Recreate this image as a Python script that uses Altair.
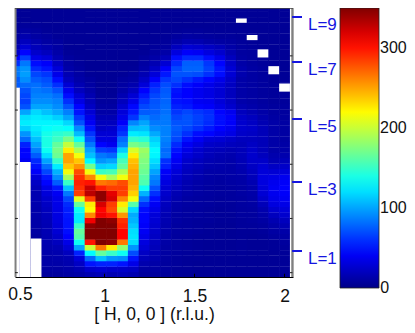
import altair as alt
import pandas as pd

BACK = 5
E_FIRST = 10
H_VALUES = [0.50, 0.56, 0.62, 0.68, 0.74, 0.80, 0.86, 0.92, 0.98, 1.04, 1.10, 1.16, 1.22,
            1.28, 1.34, 1.40, 1.46, 1.52, 1.58, 1.64, 1.70, 1.76, 1.82, 1.88, 1.94, 2.00]

# intensity per column, lowest energy first; anything above the list's end is BACK
I_050 = [5,5,5,5,5,5,5,5,5,5,5,5,5,5,5,5,5,5,5,5,5,5,5,5,5,5,5,5,5,5,5,5,5,5,5,
         75,75,85,85,60,45,25,15,10,8,6]
I_056 = [5,5,5,5,5,5,5,5,5,5,5,5,5,5,5,5,5,5,5,5,5,40,45,45,55,80,95,115,125,120,100,72,65,68,72,80,92,98,95,85,65,45,28,20,14,10,7]
I_062 = [5,5,5,5,5,5,5,8,10,12,12,13,13,14,15,15,18,22,30,42,50,58,75,88,100,110,120,125,128,125,118,100,92,88,85,82,75,68,58,48,35,25,18,14,10,8,6]
I_068 = [8,10,12,12,13,14,15,15,16,16,17,18,20,22,25,30,35,45,52,68,82,100,120,135,140,140,138,132,128,122,110,100,92,88,82,75,70,62,50,42,30,20,14,10,8,6]
I_074 = [8,10,12,13,14,16,20,24,28,30,32,33,34,35,36,40,52,75,92,105,125,150,168,172,165,152,145,135,128,115,102,92,88,82,72,60,48,36,30,22,16,12,10,8,6]
I_080 = [10,12,14,15,20,28,35,44,48,50,50,52,54,58,68,85,110,150,188,215,238,250,250,225,198,172,150,132,118,100,88,72,60,48,38,28,20,16,12,10,8,6]
I_086 = [12,16,22,30,55,100,135,160,165,150,125,125,135,165,210,285,290,295,290,280,255,238,215,190,165,135,108,92,72,62,50,45,34,28,20,16,12,10,8,7,6]
I_092 = [15,25,50,80,130,200,300,350,350,345,310,260,220,225,285,330,325,300,260,215,170,130,110,100,85,72,62,50,40,35,28,22,18,15,12,10,8,6]
I_098 = [18,28,55,110,165,265,350,350,350,350,350,310,305,320,345,345,295,265,215,150,115,95,85,65,45,32,28,22,20,16,12,10,8,6]
I_104 = [16,25,55,95,150,225,345,350,350,350,345,300,280,285,320,315,285,270,190,155,118,100,80,62,38,32,28,25,20,16,12,10,8,6]
I_110 = [18,24,50,92,135,180,265,305,305,295,290,255,205,225,260,285,285,280,215,190,165,155,140,115,88,80,62,55,42,35,30,26,20,16,12,10,8,6]
I_116 = [15,22,35,50,70,95,120,122,120,112,105,102,118,160,215,235,245,250,250,250,245,240,225,205,172,150,125,108,90,62,52,46,36,28,20,14,10,8,6]
I_122 = [8,10,14,18,22,28,32,36,40,42,45,45,48,60,80,105,135,158,162,168,172,175,180,185,165,145,122,110,100,88,75,68,60,52,44,30,22,16,12,10,8,6]
I_128 = [8,10,12,14,16,18,20,22,24,26,28,30,35,40,48,60,72,85,90,100,112,120,128,130,122,115,102,92,85,80,76,74,72,68,62,55,42,30,22,16,12,9,7,6]
I_134 = [7,8,8,9,10,10,11,12,13,14,15,16,18,20,22,25,28,32,38,42,55,60,82,80,85,88,88,88,85,85,82,80,78,76,74,70,62,52,42,28,18,12,9,7,6]
I_140 = [6,6,7,7,8,8,8,8,9,9,10,10,11,12,14,16,20,22,26,30,35,40,45,50,58,68,72,75,72,68,62,55,50,48,50,60,68,72,68,58,48,32,20,12,8,6]
I_146 = [5,6,6,6,7,7,7,7,8,8,8,9,9,10,10,12,14,15,18,20,22,25,30,35,40,50,60,68,72,72,68,52,48,44,44,48,60,72,78,76,58,42,28,16,10,7]
I_152 = [5,5,5,6,6,6,6,6,7,7,7,8,8,9,9,10,11,12,14,16,18,20,24,26,32,40,48,60,65,66,62,45,40,38,38,42,52,70,78,76,58,40,26,15,9,7]
I_158 = [5,5,5,5,5,5,5,6,6,6,7,7,7,8,8,9,9,10,11,12,14,16,18,20,24,30,45,52,58,60,58,42,38,34,34,36,45,60,66,62,48,32,22,12,8,6]
I_164 = [5,5,5,5,5,5,5,5,5,5,6,6,6,7,7,8,8,9,10,12,13,14,15,18,22,28,38,44,48,48,45,34,30,28,28,30,36,48,50,45,36,26,18,10,7,6]
I_170 = [5,5,5,5,5,5,5,5,5,5,6,6,7,7,8,8,9,10,11,12,12,13,14,16,20,24,34,38,42,42,38,26,22,20,20,21,24,28,28,24,20,15,12,9,7,6]
I_176 = [5,5,5,5,6,6,6,6,6,7,7,8,8,9,9,10,10,11,12,14,15,17,18,18,18,20,24,26,26,24,20,16,13,12,12,12,12,14,14,12,10,9,8,7,6,6]
I_182 = [5,5,5,5,5,5,5,5,6,7,8,8,9,10,11,12,13,15,18,20,22,24,25,24,22,20,22,24,22,20,16,13,11,10,10,10,10,10,10,9,8,8,7,6]
I_188 = [5,5,5,5,5,5,5,6,7,8,10,12,14,18,24,28,30,32,32,30,28,24,20,18,18,18,18,18,16,14,12,10,9,8,8,8,8,8,8,7,7,6,6]
I_194 = [5,5,5,5,5,6,6,8,10,12,15,20,26,32,36,38,40,38,34,28,22,16,14,12,12,12,12,12,12,10,9,8,7,7,7,7,6,6]
I_200 = [6,6,6,6,6,7,8,10,12,16,20,26,30,35,40,42,44,42,38,30,24,18,14,12,11,10,10,10,10,9,8,8,7,7,6,6]

COLUMNS = [I_050, I_056, I_062, I_068, I_074, I_080, I_086, I_092, I_098, I_104, I_110, I_116, I_122,
           I_128, I_134, I_140, I_146, I_152, I_158, I_164, I_170, I_176, I_182, I_188, I_194, I_200]

# white (unmeasured) regions: H from, H to, E from, E to
GAP_H0 = [0.503, 0.53, 0.59, 1.73, 1.79, 1.85, 1.91, 1.97]
GAP_H1 = [0.53, 0.59, 0.65, 1.79, 1.85, 1.91, 1.97, 2.03]
GAP_E0 = [9.6, 9.6, 9.6, 56.5, 53.3, 50.1, 47.0, 43.8]
GAP_E1 = [44.5, 30.8, 16.7, 57.3, 54.25, 51.6, 48.5, 45.3]

L_NAMES = ["L=9", "L=7", "L=5", "L=3", "L=1"]
L_ENERGY = [57.57, 49.27, 38.75, 27.13, 14.4]
TICK_ENERGY = [10.4, 20.4, 30.4, 40.4, 50.4]
H_TICKS = [1, 1.5, 2]
CBAR_TICKS = [100, 200, 300]

H_MIN, H_MAX = 0.503, 2.047
E_MIN, E_MAX = 9.6, 59.23

rows = []
for h, col in zip(H_VALUES, COLUMNS):
    for k in range(51):
        e = E_FIRST + k
        v = col[k] if k < len(col) else BACK
        rows.append(dict(
            x0=max(H_MIN, h - 0.03), x1=h + 0.03 if h >= 2 else h + 0.0335,
            y0=max(E_MIN, e - 0.5), y1=min(E_MAX, e + 0.56), v=v))
cells = pd.DataFrame(rows)
cells = cells[cells.y0 < E_MAX]

xs = alt.Scale(domain=[H_MIN, H_MAX], nice=False, zero=False)
ys = alt.Scale(domain=[E_MIN, E_MAX], nice=False, zero=False)
jet = alt.Scale(domain=[0, 44, 131, 219, 306, 350],
                range=["#000088", "#0000ff", "#00ffff", "#ffff00", "#ff0000", "#800000"],
                interpolate="rgb")
FONT = "Liberation Sans"
TSIZE = 17.5
CSIZE = 16

base = alt.Chart(cells).mark_rect(strokeWidth=0).encode(
    x=alt.X("x0:Q", scale=xs, title="[ H, 0, 0 ] (r.l.u.)",
            axis=alt.Axis(values=H_TICKS, tickSize=0, grid=False, labelFontSize=TSIZE, labelPadding=10,
                          labelFont=FONT, labelColor="#111", titleFont=FONT, titleFontSize=17.5,
                          titleFontWeight="normal", titleColor="#111", titlePadding=1,
                          domainColor="black", domainWidth=1.2, labelFlush=False,
                          labelExpr="'' + datum.value")),
    x2="x1:Q",
    y=alt.Y("y0:Q", scale=ys, axis=None),
    y2="y1:Q",
    color=alt.Color("v:Q", scale=jet, legend=alt.Legend(
        type="gradient", orient="none", legendX=325, legendY=0, title=None,
        gradientLength=280, gradientThickness=39, values=CBAR_TICKS,
        labelFont=FONT, labelFontSize=CSIZE, labelColor="#111", labelOffset=1,
        labelOverlap=False, gradientStrokeColor="#222", gradientStrokeWidth=0.8)),
)

gaps = alt.Chart(pd.DataFrame(dict(a=GAP_H0, b=GAP_H1, c=GAP_E0, d=GAP_E1))).mark_rect(
    color="white", strokeWidth=0).encode(
    x=alt.X("a:Q", scale=xs), x2="b:Q", y=alt.Y("c:Q", scale=ys), y2="d:Q")

def vline(h, color, w):
    return alt.Chart(pd.DataFrame(dict(h=[h]))).mark_rule(color=color, strokeWidth=w).encode(
        x=alt.X("h:Q", scale=xs), y=alt.datum(E_MIN, scale=ys), y2=alt.datum(E_MAX))

left = vline(0.506, "#808080", 2)
right = vline(2.044, "#808080", 2.4)
top = alt.Chart(pd.DataFrame(dict(e=[E_MAX - 0.05]))).mark_rule(color="#444", strokeWidth=1).encode(
    y=alt.Y("e:Q", scale=ys), x=alt.datum(H_MIN, scale=xs), x2=alt.datum(H_MAX))

xtick_df = pd.DataFrame(dict(h=H_TICKS, e0=[E_MIN] * 3, e1=[E_MIN + 0.6] * 3))
xticks = alt.Chart(xtick_df).mark_rule(color="black", strokeWidth=1).encode(
    x=alt.X("h:Q", scale=xs), y=alt.Y("e0:Q", scale=ys), y2="e1:Q")

t_df = pd.DataFrame(dict(e=TICK_ENERGY, a=[H_MIN] * 5, b=[H_MIN + 0.016] * 5, c=[2.03] * 5, d=[2.044] * 5))
lticks = alt.Chart(t_df).mark_rule(color="#222", strokeWidth=1).encode(
    y=alt.Y("e:Q", scale=ys), x=alt.X("a:Q", scale=xs), x2="b:Q")
rticks = alt.Chart(t_df).mark_rule(color="#222", strokeWidth=1).encode(
    y=alt.Y("e:Q", scale=ys), x=alt.X("c:Q", scale=xs), x2="d:Q")

l_df = pd.DataFrame(dict(name=L_NAMES, e=L_ENERGY, a=[2.042] * 5, b=[2.097] * 5, t=[2.13] * 5))
lrules = alt.Chart(l_df).mark_rule(color="#1515e0", strokeWidth=2).encode(
    y=alt.Y("e:Q", scale=ys), x=alt.X("a:Q", scale=xs), x2="b:Q")
ltext = alt.Chart(l_df).mark_text(color="#1515e0", font=FONT, fontSize=17, align="left",
                                  baseline="middle", dy=8).encode(
    y=alt.Y("e:Q", scale=ys), x=alt.X("t:Q", scale=xs), text="name:N")

first_label = alt.Chart(pd.DataFrame(dict(h=[0.5], e=[E_MIN], s=["0.5"]))).mark_text(
    font=FONT, fontSize=TSIZE, color="#111", dx=6, dy=18, baseline="middle").encode(
    x=alt.X("h:Q", scale=xs), y=alt.Y("e:Q", scale=ys), text="s:N")

cbar_zero = alt.Chart(pd.DataFrame(dict(h=[2.531], e=[E_MIN], s=["0"]))).mark_text(
    font=FONT, fontSize=CSIZE, color="#111", align="left", dy=11, baseline="middle").encode(
    x=alt.X("h:Q", scale=xs), y=alt.Y("e:Q", scale=ys), text="s:N")

chart = alt.layer(base, gaps, left, right, top, xticks, lticks, rticks, lrules, ltext, first_label, cbar_zero).properties(
    width=278, height=269,
    padding={"left": 7, "top": 0, "right": 114, "bottom": 48},
    autosize=alt.AutoSizeParams(type="none"),
).configure_view(stroke=None)

chart.save("out.html", embed_options={"renderer": "svg", "actions": False})
